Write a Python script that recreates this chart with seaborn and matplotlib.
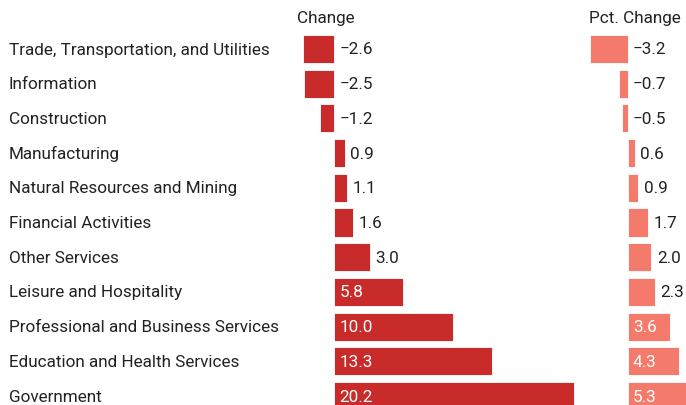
import matplotlib
matplotlib.use("Agg")
import matplotlib.pyplot as plt
import matplotlib.transforms as mtransforms
import pandas as pd
import seaborn as sns

# datos
sectors = [
    "Trade, Transportation, and Utilities",
    "Information",
    "Construction",
    "Manufacturing",
    "Natural Resources and Mining",
    "Financial Activities",
    "Other Services",
    "Leisure and Hospitality",
    "Professional and Business Services",
    "Education and Health Services",
    "Government",
]
change = [-2.6, -2.5, -1.2, 0.9, 1.1, 1.6, 3.0, 5.8, 10.0, 13.3, 20.2]
pct_change = [-3.2, -0.7, -0.5, 0.6, 0.9, 1.7, 2.0, 2.3, 3.6, 4.3, 5.3]

df = pd.DataFrame({"Sector": sectors, "Change": change, "Pct": pct_change})

sns.set_theme(style="white")
plt.rcParams["font.family"] = ["Roboto", "DejaVu Sans"]

W, H = 686, 406
fig = plt.figure(figsize=(W / 100, H / 100), dpi=100)

# escala comun: px por unidad
k = 11.87
row0, pitch = 50.0, 34.7
ylim = ((H - row0) / pitch, -row0 / pitch)


def make_ax(x0, x1, zero):
    ax = fig.add_axes([x0 / W, 0, (x1 - x0) / W, 1])
    ax.set_xlim((x0 - zero) / k, (x1 - zero) / k)
    return ax


ax1 = make_ax(285, 582, 334)
ax2 = make_ax(582, 686, 627.5)

dark_red = "#c92a2a"
salmon = "#f47b6b"
txt = "#222222"

for ax, col, color in [(ax1, "Change", dark_red), (ax2, "Pct", salmon)]:
    sns.barplot(data=df, x=col, y="Sector", orient="h", color=color,
                saturation=1, width=0.81, edgecolor="white", linewidth=0.6, ax=ax)
    ax.set_ylim(*ylim)
    ax.axis("off")
    for i, v in enumerate(df[col]):
        if v >= 3.3:
            ax.annotate(f"{v:.1f}", (0, i), xytext=(4, 0), textcoords="offset points",
                        ha="left", va="center", color="white", fontsize=12.3)
        else:
            lab = f"{v:.1f}".replace("-", "\u2212")
            ax.annotate(lab, (max(v, 0), i), xytext=(4, 0), textcoords="offset points",
                        ha="left", va="center", color=txt, fontsize=12.3)

# etiquetas de sectores
trans = mtransforms.blended_transform_factory(fig.transFigure, ax1.transData)
for i, s in enumerate(sectors):
    fig.text(9 / W, i, s, transform=trans, ha="left", va="center",
             color=txt, fontsize=12.3)

# encabezados
fig.text(297 / W, 1 - 18 / H, "Change", ha="left", va="center", color=txt, fontsize=12.3)
fig.text(589 / W, 1 - 18 / H, "Pct. Change", ha="left", va="center", color=txt, fontsize=12.3)

fig.savefig("out.png", dpi=100)
